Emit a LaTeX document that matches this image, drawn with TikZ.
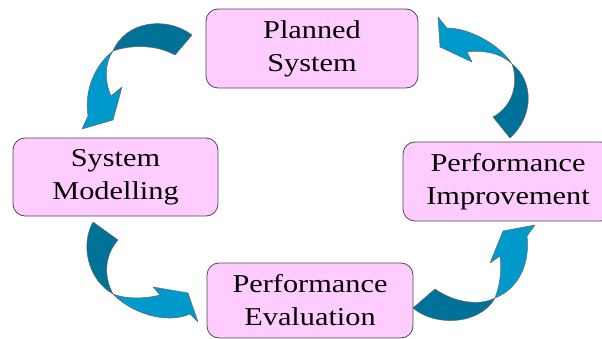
\documentclass[tikz,border=0pt]{standalone}
\usepackage{fontspec}
\setmainfont{Liberation Serif}[FakeStretch=1.18]

\definecolor{phasepink}{RGB}{255,204,255}
\definecolor{arrowlight}{RGB}{0,153,204}
\definecolor{arrowdark}{RGB}{0,114,153}

\tikzstyle{cyclefig}=[x=1pt,y=-1pt]
\tikzstyle{phase}=[draw=black!70,line width=0.8pt,fill=phasepink,rounded corners=12pt,
  align=center,inner sep=0pt,font=\fontsize{25.7}{33}\selectfont,
  execute at begin node={\rule{0pt}{29pt}}]
\tikzstyle{darkpart}=[fill=arrowdark,draw=black!60,line width=0.5pt,line join=round]
\tikzstyle{lightpart}=[fill=arrowlight,draw=black!60,line width=0.5pt,line join=round]

\begin{document}
\begin{tikzpicture}[style=cyclefig]
\useasboundingbox (0,0) rectangle (602,339);
\clip (0,0) rectangle (602,339);

\node[phase,minimum width=212pt,minimum height=79pt] (plan) at (312,48.5) {Planned\\System};
\node[phase,minimum width=205pt,minimum height=78pt] (model) at (115.5,177) {System\\Modelling};
\node[phase,minimum width=206pt,minimum height=75pt] (eval) at (310,300.5) {Performance\\Evaluation};
\node[phase,minimum width=210pt,minimum height=79pt] (improve) at (508,181.5) {Performance\\Improvement};

% planned -> modelling
\draw[darkpart] (192,35) .. controls (165,15) and (125,22) .. (113,51) .. controls (130,45) and (155,44) .. (175,55) -- cycle;
\draw[lightpart] (113,51) .. controls (95,65) and (84,90) .. (88,116) -- (82,129) -- (113,120) -- (122,87) -- (111,96) .. controls (104,80) and (105,62) .. (113,51) -- cycle;

% modelling -> evaluation
\draw[darkpart] (93,222) .. controls (80,245) and (88,280) .. (113,294) .. controls (103,275) and (105,255) .. (118,240) -- cycle;
\draw[lightpart] (113,294) .. controls (130,312) and (165,325) .. (190,314) -- (198,322) -- (188,293) -- (153,287) -- (160,295) .. controls (145,299) and (125,299) .. (113,294) -- cycle;

% evaluation -> improvement
\draw[darkpart] (413,308) .. controls (435,327) and (480,325) .. (495,298) .. controls (480,306) and (455,303) .. (435,289) -- cycle;
\draw[lightpart] (495,298) .. controls (520,288) and (530,262) .. (527,236) -- (535,225) -- (503,231) -- (490,263) -- (500,256) .. controls (502,270) and (500,285) .. (495,298) -- cycle;

% improvement -> planned
\draw[darkpart] (510,138) .. controls (535,115) and (533,80) .. (512,64) .. controls (518,80) and (515,105) .. (493,117) -- cycle;
\draw[lightpart] (512,64) .. controls (500,45) and (470,28) .. (447,28) -- (438,17) -- (440,47) -- (472,62) -- (467,52) .. controls (480,50) and (500,52) .. (512,64) -- cycle;
\end{tikzpicture}
\end{document}
